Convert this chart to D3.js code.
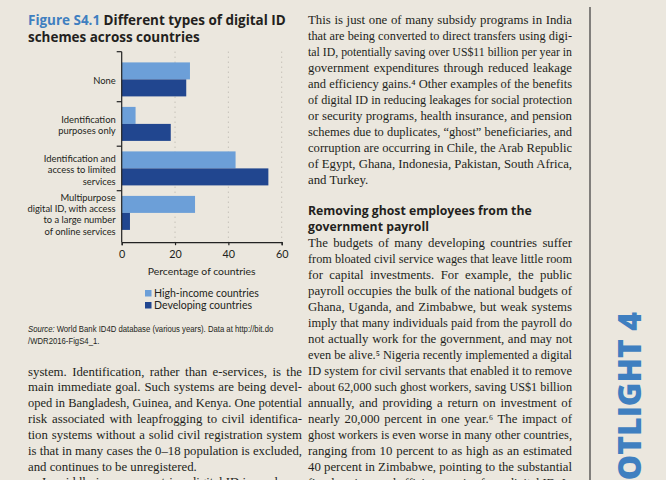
<!DOCTYPE html>
<html><head><meta charset="utf-8">
<script src="https://cdn.jsdelivr.net/npm/d3@7"></script>
<style>html,body{margin:0;padding:0;background:#ebe7de;overflow:hidden}</style>
</head><body>
<svg id="c" width="666" height="480"></svg>
<script>
// ---------- data ----------
const categories = ["None", "Identification purposes only", "Identification and access to limited services", "Multipurpose digital ID, with access to a large number of online services"];
const categoryLines = [["None"], ["Identification", "purposes only"], ["Identification and", "access to limited", "services"], ["Multipurpose", "digital ID, with access", "to a large number", "of online services"]];
const seriesNames = ["High-income countries", "Developing countries"];
const highIncome = [25.6, 5.2, 42.7, 27.5];
const developing = [24.2, 18.4, 55.0, 3.1];
const xTicks = [0, 20, 40, 60];
const titleLead = "Figure S4.1";
const titleRest = [" Different types of digital ID", "schemes across countries"];
const xAxisTitle = "Percentage of countries";
const sourceLead = "Source:";
const sourceLines = ["World Bank ID4D database (various years). Data at http://bit.do", "/WDR2016-FigS4_1."];
const leftText = [
 "system. Identification, rather than e-services, is the",
 "main immediate goal. Such systems are being devel-",
 "oped in Bangladesh, Guinea, and Kenya. One potential",
 "risk associated with leapfrogging to civil identifica-",
 "tion systems without a solid civil registration system",
 "is that in many cases the 0–18 population is excluded,",
 "and continues to be unregistered."];
const leftNext = ["In middle-income countries, digital ID is used"];
const rightPara1 = [
 "This is just one of many subsidy programs in India",
 "that are being converted to direct transfers using digi-",
 "tal ID, potentially saving over US$11 billion per year in",
 "government expenditures through reduced leakage",
 "and efficiency gains.⁴ Other examples of the benefits",
 "of digital ID in reducing leakages for social protection",
 "or security programs, health insurance, and pension",
 "schemes due to duplicates, “ghost” beneficiaries, and",
 "corruption are occurring in Chile, the Arab Republic",
 "of Egypt, Ghana, Indonesia, Pakistan, South Africa,",
 "and Turkey."];
const heading = ["Removing ghost employees from the", "government payroll"];
const rightPara2 = [
 "The budgets of many developing countries suffer",
 "from bloated civil service wages that leave little room",
 "for capital investments. For example, the public",
 "payroll occupies the bulk of the national budgets of",
 "Ghana, Uganda, and Zimbabwe, but weak systems",
 "imply that many individuals paid from the payroll do",
 "not actually work for the government, and may not",
 "even be alive.⁵ Nigeria recently implemented a digital",
 "ID system for civil servants that enabled it to remove",
 "about 62,000 such ghost workers, saving US$1 billion",
 "annually, and providing a return on investment of",
 "nearly 20,000 percent in one year.⁶ The impact of",
 "ghost workers is even worse in many other countries,",
 "ranging from 10 percent to as high as an estimated",
 "40 percent in Zimbabwe, pointing to the substantial",
 "fiscal savings and efficiency gains from digital ID. In"];
const sideLabel = "SPOTLIGHT 4";

// ---------- styles ----------
const C = {bg:"#ebe7de", light:"#6c9fd8", dark:"#21468f", blue:"#3f7fc0", ink:"#231f20", grid:"#b5b1a8"};
const serif = "'Liberation Serif', serif";
const sans = "Lato, 'Noto Sans', sans-serif";
const bold = "'Open Sans', 'Noto Sans', sans-serif";

const svg = d3.select("#c");
svg.append("rect").attr("width",666).attr("height",480).attr("fill",C.bg);

function fitSize(sel, target){ const w = sel.node().getComputedTextLength(); const fs = parseFloat(sel.attr("font-size")); const n = fs*target/w; sel.attr("font-size", n); return n; }

function justifyBlock(g, lines, x0, yStart, lh, width, opts={}){
  const fs = opts.fs || 12.8;
  g.selectAll(null).data(lines).join("text")
    .attr("x", (d,i)=> x0 + (i===0 && opts.indent ? opts.indent : 0))
    .attr("y", (d,i)=> yStart + i*lh)
    .attr("font-family", serif).attr("font-size", fs)
    .attr("fill", C.ink).text(d=>d)
    .each(function(d,i){
      const t = d3.select(this); const w = this.getComputedTextLength();
      const tw = width - (i===0 && opts.indent ? opts.indent : 0);
      const last = (i === lines.length-1) && !opts.noRagged;
      const spaces = (d.match(/ /g)||[]).length;
      if (!last) {
        if (w > tw) t.attr("textLength", tw).attr("lengthAdjust","spacingAndGlyphs");
        else if (spaces) t.attr("word-spacing", (tw-w)/spaces);
      } else if (w > tw) t.attr("textLength", tw).attr("lengthAdjust","spacingAndGlyphs");
    });
}

// ---------- title ----------
const tg = svg.append("g");
const t1 = tg.append("text").attr("x",28).attr("y",25).attr("font-family",bold).attr("font-weight",700).attr("font-size",13).attr("fill",C.ink);
t1.append("tspan").attr("fill",C.blue).text(titleLead);
t1.append("tspan").text(titleRest[0]);
const tfs = fitSize(t1, 258);
tg.append("text").attr("x",28).attr("y",42).attr("font-family",bold).attr("font-weight",700).attr("font-size",tfs).attr("fill",C.ink).text(titleRest[1]);

// ---------- chart ----------
const x = d3.scaleLinear().domain([0,60]).range([121.7, 281.7]);
const y0 = d3.scaleBand().domain(categories).range([57.2, 235.2]);
const y1 = d3.scaleBand().domain(seriesNames).range([5.2, 39.2]);
const padTop = 5.5, padBottom = 7;
const yTop = y0.range()[0]-padTop, yBottom = y0.range()[1]+padBottom;

const cg = svg.append("g");
cg.selectAll(".grid").data(xTicks.filter(v=>v>0)).join("line")
  .attr("x1",d=>x(d)).attr("x2",d=>x(d)).attr("y1",yTop).attr("y2",yBottom)
  .attr("stroke",C.grid).attr("stroke-width",1).attr("stroke-dasharray","1,4");

const rows = categories.map((c,i)=>({c, vals:[{s:seriesNames[0], v:highIncome[i]},{s:seriesNames[1], v:developing[i]}]}));
const rg = cg.selectAll(".row").data(rows).join("g").attr("transform",d=>`translate(0,${y0(d.c)})`);
rg.selectAll("rect").data(d=>d.vals).join("rect")
  .attr("x",x(0)).attr("y",d=>y1(d.s)).attr("width",d=>x(d.v)-x(0)).attr("height",y1.bandwidth())
  .attr("fill",(d,i)=> i===0 ? C.light : C.dark);

// y axis
cg.append("line").attr("x1",x(0)).attr("x2",x(0)).attr("y1",yTop).attr("y2",yBottom).attr("stroke","#222").attr("stroke-width",1.2);
const ytickY = [yTop].concat(categories.slice(1).map(c=>y0(c)));
cg.selectAll(".yt").data(ytickY).join("line").attr("x1",x(0)-5).attr("x2",x(0)).attr("y1",d=>d).attr("y2",d=>d).attr("stroke","#222").attr("stroke-width",1.2);

// x axis
const xa = cg.append("g").attr("transform",`translate(0,${yBottom})`)
  .call(d3.axisBottom(x).tickValues(xTicks).tickSizeOuter(0).tickSize(3).tickPadding(5));
xa.select(".domain").attr("stroke","#222").attr("stroke-width",1.2);
xa.selectAll(".tick line").attr("stroke","#222").attr("stroke-width",1.2);
xa.selectAll(".tick text").attr("font-family",sans).attr("font-size",10.8).attr("fill",C.ink);

// category labels
const probe = cg.append("text").attr("font-family",sans).attr("font-size",10).text(categoryLines[2][0]);
const cfs = fitSize(probe, 72); probe.remove();
const lh = 11.4;
const lg = cg.selectAll(".cl").data(categories).join("text")
  .attr("text-anchor","end").attr("font-family",sans).attr("font-size",cfs).attr("fill",C.ink)
  .attr("y",(d,i)=> y0(d)+y0.bandwidth()/2 + 1.5 - (categoryLines[i].length-1)*lh/2 + cfs*0.35);
lg.selectAll("tspan").data((d,i)=>categoryLines[i]).join("tspan").attr("x",x(0)-6).attr("dy",(d,j)=> j===0?0:lh).text(d=>d);

// x title
const xt = cg.append("text").attr("x",(x(0)+x(60))/2).attr("y",275).attr("text-anchor","middle").attr("font-family",sans).attr("font-size",10).attr("fill",C.ink).text(xAxisTitle);
fitSize(xt,108);

// legend
const leg = cg.selectAll(".lg").data(seriesNames).join("g").attr("transform",(d,i)=>`translate(145,${290+i*12})`);
leg.append("rect").attr("width",6.5).attr("height",6.5).attr("fill",(d,i)=> i===0?C.light:C.dark);
const lt = leg.append("text").attr("x",9).attr("y",6.6).attr("font-family",sans).attr("font-size",10.5).attr("fill",C.ink).text(d=>d);
const lfs = fitSize(d3.select(lt.nodes()[0]),105);
lt.attr("font-size",lfs);

// source (condensed by a horizontal scale of its group)
const sFam = "'Liberation Sans Narrow','Liberation Sans',sans-serif";
const sg = svg.append("g");
const sA = sg.append("text").attr("x",0).attr("y",332.5).attr("font-family",sFam).attr("font-style","italic").attr("font-size",9.2).attr("fill",C.ink).text(sourceLead);
const aw = sA.node().getComputedTextLength();
const sB = sg.append("text").attr("x",aw+2.4).attr("y",332.5).attr("font-family",sFam).attr("font-size",9.2).attr("fill",C.ink).text(sourceLines[0]);
const totalW = aw + 2.4 + sB.node().getComputedTextLength();
sg.append("text").attr("x",0).attr("y",344).attr("font-family",sFam).attr("font-size",9.2).attr("fill",C.ink).text(sourceLines[1]);
sg.attr("transform",`translate(28,0) scale(${245/totalW},1)`);

// ---------- body text ----------
const bg = svg.append("g");
justifyBlock(bg.append("g"), leftText, 28, 375.5, 15.85, 274);
justifyBlock(bg.append("g"), leftNext, 28, 375.5+7*15.85, 15.85, 274, {indent:14});
justifyBlock(bg.append("g"), rightPara1, 308, 24, 16, 264);
const hg = bg.append("g");
const h1 = hg.append("text").attr("x",308).attr("y",215).attr("font-family",bold).attr("font-weight",700).attr("font-size",12.5).attr("fill",C.ink).text(heading[0]);
const hfs = fitSize(h1,224);
hg.append("text").attr("x",308).attr("y",231).attr("font-family",bold).attr("font-weight",700).attr("font-size",hfs).attr("fill",C.ink).text(heading[1]);
justifyBlock(bg.append("g"), rightPara2, 308, 247.3, 16, 264, {noRagged:true});

// divider
svg.append("line").attr("x1",590).attr("x2",590).attr("y1",7).attr("y2",480).attr("stroke","#3a3a3a").attr("stroke-width",1.2);

// side label
svg.append("text").attr("transform","translate(641,312) rotate(-90)").attr("text-anchor","end")
  .attr("font-family",bold).attr("font-weight",800).attr("font-size",32).attr("fill",C.blue).text(sideLabel);
</script>
</body></html>
